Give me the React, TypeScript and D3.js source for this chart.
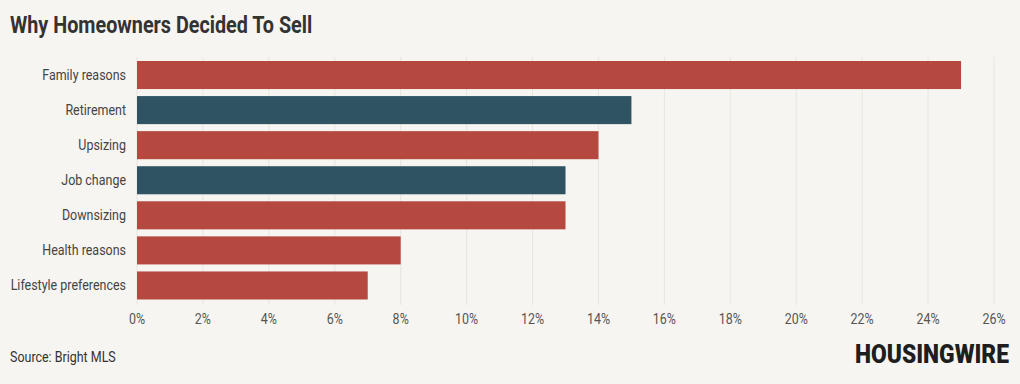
import React, { useLayoutEffect, useRef, useState } from 'react'
import * as d3 from 'd3'

const categories = ['Family reasons', 'Retirement', 'Upsizing', 'Job change', 'Downsizing', 'Health reasons', 'Lifestyle preferences']
const values = [25, 15, 14, 13, 13, 8, 7]
const highlight = [false, true, false, true, false, false, false]
const xTicks = [0, 2, 4, 6, 8, 10, 12, 14, 16, 18, 20, 22, 24, 26]

const W = 1020
const H = 384
const RED = '#b5493f'
const BLUE = '#2f5363'
const FONT = 'Roboto, sans-serif'
const SQ = 0.86 // fake condensed

const Cond = (props: { x: number, y: number, anchor?: string, size: number, weight?: number, fill: string, children: string }) => (
    <text
        transform={`translate(${props.x},${props.y}) scale(${SQ},1)`}
        textAnchor={props.anchor || 'start'}
        fontSize={props.size}
        fontWeight={props.weight || 400}
        fontFamily={FONT}
        fill={props.fill}
    >
        {props.children}
    </text>
)

// logo squeezed to a fixed width
const Logo = () => {
    const ref = useRef<SVGTextElement>(null)
    const [k, setK] = useState(0.85)
    useLayoutEffect(() => {
        const len = ref.current!.getComputedTextLength()
        if (len > 0) setK(154 / len)
    }, [])
    return (
        <text ref={ref} transform={`translate(855,363) scale(${k},1)`} fontSize={25} fontWeight={900}
            fontFamily={FONT} fill="#1e1e1e">HOUSINGWIRE</text>
    )
}

const App = () => {
    const x = d3.scaleLinear().domain([0, 26]).range([137, 994])
    const y = d3.scaleBand<string>().domain(categories).range([57.5, 303]).paddingInner(0.2).paddingOuter(0.1)

    return (
        <svg width={W} height={H} style={{ position: 'absolute', left: 0, top: 0, background: '#f7f5f1' }}>
            <rect width={W} height={H} fill="#f7f5f1" />
            <Cond x={10} y={33} size={23} weight={700} fill="#333333">Why Homeowners Decided To Sell</Cond>

            {xTicks.map(t => (
                <g key={t}>
                    <line x1={x(t)} x2={x(t)} y1={57} y2={305} stroke="#e8e5e0" strokeWidth={1} />
                    <Cond x={x(t)} y={324} anchor="middle" size={14.5} fill="#555555">{`${t}%`}</Cond>
                </g>
            ))}

            {categories.map((c, i) => (
                <g key={c}>
                    <rect x={x(0)} y={y(c)!} width={x(values[i]) - x(0)} height={y.bandwidth()} fill={highlight[i] ? BLUE : RED} />
                    <Cond x={126} y={y(c)! + y.bandwidth() / 2 + 5} anchor="end" size={14.5} fill="#444444">{c}</Cond>
                </g>
            ))}

            <Cond x={10} y={362} size={14.5} fill="#333333">Source: Bright MLS</Cond>
            <Logo />
        </svg>
    )
}

export default App
